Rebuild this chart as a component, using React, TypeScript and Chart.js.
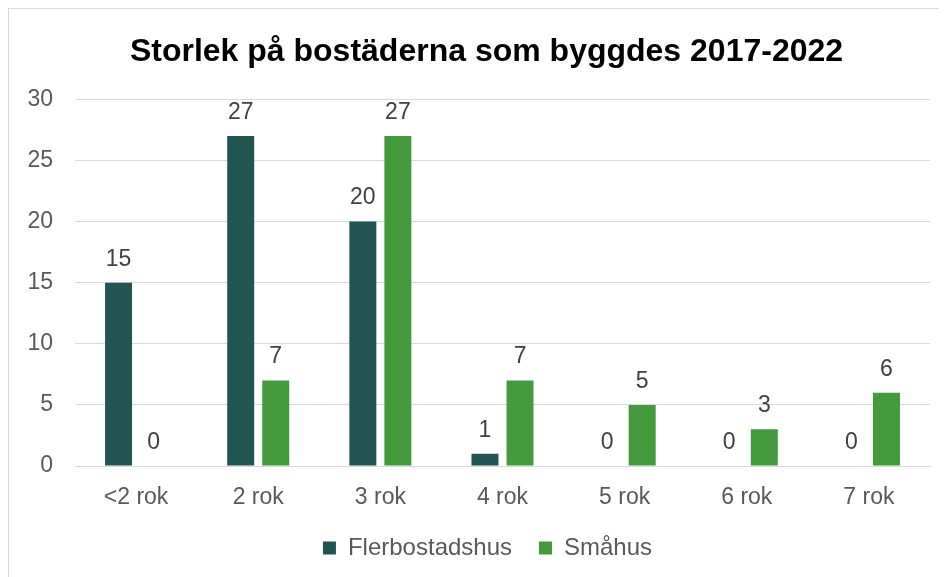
import React, { useEffect, useRef } from "react";
import { Chart, registerables } from "chart.js";

Chart.register(...registerables);

const categories = ["<2 rok", "2 rok", "3 rok", "4 rok", "5 rok", "6 rok", "7 rok"];
const flerbostadshus = [15, 27, 20, 1, 0, 0, 0];
const smahus = [0, 7, 27, 7, 5, 3, 6];
const seriesNames = ["Flerbostadshus", "Småhus"];
const titleText = "Storlek på bostäderna som byggdes 2017-2022";

const FONT = "'Liberation Sans', Arial, sans-serif";

const valueLabels = {
  id: "valueLabels",
  afterDatasetsDraw(chart: any) {
    const ctx = chart.ctx;
    ctx.save();
    ctx.font = `23px ${FONT}`;
    ctx.fillStyle = "#404040";
    ctx.textAlign = "center";
    ctx.textBaseline = "bottom";
    chart.data.datasets.forEach((ds: any, i: number) => {
      const meta = chart.getDatasetMeta(i);
      meta.data.forEach((bar: any, j: number) => {
        ctx.fillText(String(ds.data[j]), bar.x, bar.y - 12);
      });
    });
    ctx.restore();
  },
};

// shift title and legend boxes so they are centred like the original
const centreShift = {
  id: "centreShift",
  afterLayout(chart: any) {
    if (chart.titleBlock) {
      chart.titleBlock.left += 17;
      chart.titleBlock.right += 17;
    }
    if (chart.legend) {
      chart.legend.left += 18;
      chart.legend.right += 18;
    }
  },
};

export default function App() {
  const ref = useRef<HTMLCanvasElement>(null);
  useEffect(() => {
    if (!ref.current) return;
    const chart = new Chart(ref.current, {
      type: "bar",
      data: {
        labels: categories,
        datasets: [
          { label: seriesNames[0], data: flerbostadshus, backgroundColor: "#225552", categoryPercentage: 0.574, barPercentage: 0.77 },
          { label: seriesNames[1], data: smahus, backgroundColor: "#43993C", categoryPercentage: 0.574, barPercentage: 0.77 },
        ],
      },
      options: {
        animation: false,
        responsive: false,
        layout: { padding: { left: 0, right: 17, top: 0, bottom: 7 } },
        plugins: {
          title: {
            display: true,
            text: titleText,
            color: "#000000",
            font: { family: FONT, size: 32, weight: "bold" },
            padding: { top: 24, bottom: 28 },
          },
          legend: {
            position: "bottom",
            labels: {
              color: "#595959",
              font: { family: FONT, size: 24 },
              boxWidth: 13,
              boxHeight: 13,
              padding: 27,
            },
          },
          tooltip: { enabled: false },
        },
        scales: {
          x: {
            grid: { display: false },
            border: { color: "#d9d9d9", width: 1 },
            ticks: { color: "#595959", font: { family: FONT, size: 23 }, padding: 10 },
            afterFit: (s: any) => { s.height = 43; },
          },
          y: {
            min: 0,
            max: 30,
            ticks: { stepSize: 5, color: "#595959", font: { family: FONT, size: 23 }, padding: 22 },
            grid: { color: "#d9d9d9", lineWidth: 1, drawTicks: false },
            border: { display: false },
            afterFit: (s: any) => { s.width = 66; },
          },
        },
      },
      plugins: [valueLabels, centreShift],
    });
    return () => chart.destroy();
  }, []);
  return (
    <div style={{ width: 938, height: 569, borderLeft: "1px solid #d9d9d9", borderTop: "1px solid #d9d9d9", overflow: "hidden" }}>
      <canvas ref={ref} width={938} height={568} style={{ display: "block" }} />
    </div>
  );
}
